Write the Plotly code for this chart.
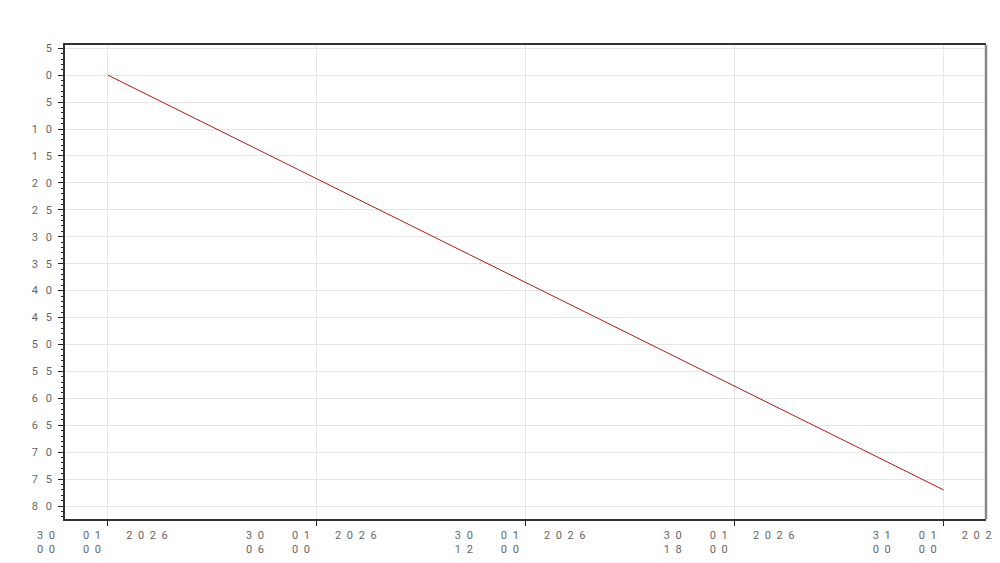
import plotly.graph_objects as go

# line data
times = ["2026-01-30 00:00", "2026-01-31 00:00"]
values = [0, 77]

# x tick labels
x_tickvals = [
    "2026-01-30 00:00",
    "2026-01-30 06:00",
    "2026-01-30 12:00",
    "2026-01-30 18:00",
    "2026-01-31 00:00",
]
x_days = ["30", "30", "30", "30", "31"]
x_months = ["01", "01", "01", "01", "01"]
x_years = ["2026", "2026", "2026", "2026", "2026"]
x_hours = ["00", "06", "12", "18", "00"]
x_minutes = ["00", "00", "00", "00", "00"]

# y tick labels (minus sign not shown in the reference)
y_tickvals = [-5, 0, 5, 10, 15, 20, 25, 30, 35, 40, 45, 50, 55, 60, 65, 70, 75, 80]
y_labels = ["5", "0", "5", "10", "15", "20", "25", "30", "35", "40",
            "45", "50", "55", "60", "65", "70", "75", "80"]

EN = "\u2002"
FIG = "\u2007"
GAP1 = EN * 5
GAP2 = EN * 4 + " "
TAIL = EN * 2


def spaced(s, sep=EN):
    return sep.join(s)


def blank(s):
    return EN.join(FIG for _ in s)


x_ticktext = []
for d, m, y, h, mi in zip(x_days, x_months, x_years, x_hours, x_minutes):
    line1 = spaced(d) + GAP1 + spaced(m) + GAP2 + spaced(y) + TAIL
    line2 = spaced(h) + GAP1 + spaced(mi) + GAP2 + blank(y) + TAIL
    x_ticktext.append(line1 + "<br>" + line2)

y_ticktext = [spaced(t, EN + "\u2009") for t in y_labels]

fig = go.Figure(
    go.Scatter(
        x=times,
        y=values,
        mode="lines",
        line={"color": "#b3191b", "width": 1},
        hoverinfo="skip",
    )
)

fig.update_xaxes(
    type="date",
    range=["2026-01-29 22:46", "2026-01-31 01:13"],
    tickvals=x_tickvals,
    ticktext=x_ticktext,
    ticks="outside",
    ticklen=5,
    tickcolor="#222",
    showline=True,
    linecolor="#333",
    linewidth=1.5,
    mirror=True,
    showgrid=True,
    gridcolor="#e6e6e6",
    zeroline=False,
    automargin=False,
    ticklabeloverflow="allow",
    tickfont={"family": "Roboto", "size": 11, "color": "#666"},
)

fig.update_yaxes(
    range=[82.4, -5.6],
    tickvals=y_tickvals,
    ticktext=y_ticktext,
    ticks="outside",
    ticklen=5,
    tickcolor="#222",
    ticklabelstandoff=4,
    minor={"dtick": 1, "ticks": "outside", "ticklen": 2, "tickcolor": "#222", "showgrid": False},
    showline=True,
    linecolor="#333",
    linewidth=1.5,
    showgrid=True,
    gridcolor="#e6e6e6",
    zeroline=False,
    automargin=False,
    tickfont={"family": "Roboto", "size": 11, "color": "#666"},
)

# grey right-hand border of the plot frame
fig.add_shape(
    type="line", xref="paper", yref="paper", x0=1, x1=1, y0=0, y1=1,
    line={"color": "#888", "width": 2.5},
)

fig.update_layout(
    width=1000,
    height=563,
    margin={"l": 57, "r": 22, "t": 37, "b": 52},
    plot_bgcolor="white",
    paper_bgcolor="white",
    showlegend=False,
)

fig.write_html("out.html")
